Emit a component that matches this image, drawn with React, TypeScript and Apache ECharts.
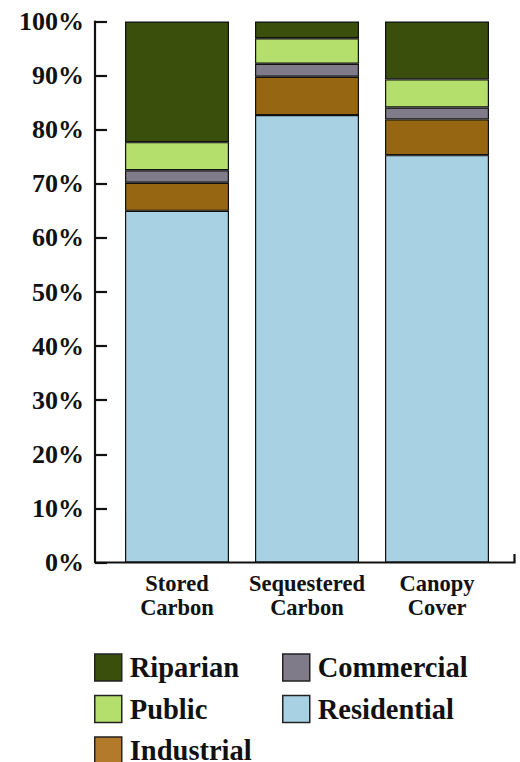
import React, { useEffect, useRef } from "react";
import * as echarts from "echarts";

const categories = ["Stored\nCarbon", "Sequestered\nCarbon", "Canopy\nCover"];
const residential = [65.0, 82.7, 75.3];
const industrial = [5.2, 7.1, 6.6];
const commercial = [2.3, 2.4, 2.2];
const publicLand = [5.2, 4.7, 5.2];
const riparian = [22.3, 3.1, 10.7];
const yTicks = [0, 10, 20, 30, 40, 50, 60, 70, 80, 90, 100];

const FONT = "'Liberation Serif', 'DejaVu Serif', serif";

const COLORS: Record<string, string> = {
  Residential: "#a8d2e4",
  Industrial: "#976613",
  Commercial: "#7f7b89",
  Public: "#b4df6c",
  Riparian: "#3a4f0c",
};

export default function App() {
  const ref = useRef<HTMLDivElement>(null);
  useEffect(() => {
    if (!ref.current) return;
    const chart = echarts.init(ref.current, null, { renderer: "svg" });
    const mk = (name: string, data: number[]) => ({
      name,
      type: "bar",
      stack: "total",
      data,
      barWidth: 104,
      itemStyle: { color: COLORS[name], borderColor: "#111", borderWidth: 1.2 },
    });
    const legendCommon = {
      orient: "vertical",
      padding: 0,
      itemWidth: 27,
      itemHeight: 27,
      itemGap: 12.5,
      icon: "rect",
      selectedMode: false,
      textStyle: {
        fontFamily: FONT,
        fontWeight: "bold",
        fontSize: 28.5,
        color: "#111",
        lineHeight: 27,
        padding: [0, 0, 0, 3],
      },
      itemStyle: { borderColor: "#222", borderWidth: 1.5 },
    };
    chart.setOption({
      animation: false,
      grid: { left: 112, width: 390, top: 21.5, height: 541 },
      xAxis: {
        type: "category",
        data: categories,
        axisLine: { show: false },
        axisTick: { show: false },
        axisLabel: {
          interval: 0,
          margin: 9,
          fontFamily: FONT,
          fontWeight: "bold",
          fontSize: 22.5,
          lineHeight: 24,
          color: "#111",
        },
      },
      yAxis: {
        type: "value",
        min: 0,
        max: 100,
        interval: 10,
        offset: 17,
        splitLine: { show: false },
        axisLine: { show: true, lineStyle: { color: "#111", width: 2.2 } },
        axisTick: { show: true, inside: true, length: 12, lineStyle: { color: "#111", width: 2.2 } },
        axisLabel: {
          margin: 11,
          fontFamily: FONT,
          fontWeight: "bold",
          fontSize: 26,
          color: "#111",
          formatter: (v: number) => (yTicks.includes(v) ? v + "%" : ""),
        },
      },
      legend: [
        {
          ...legendCommon,
          left: 94,
          top: 653,
          data: [
            { name: "Riparian" },
            { name: "Public" },
            { name: "Industrial", itemStyle: { color: "#b27a2a" } },
          ],
        },
        {
          ...legendCommon,
          left: 282,
          top: 653,
          data: [{ name: "Commercial" }, { name: "Residential" }],
        },
      ],
      graphic: [
        {
          type: "polyline",
          shape: { points: [[95, 562.5], [514.5, 562.5], [514.5, 554]] },
          style: { stroke: "#111", lineWidth: 2.2, fill: null },
        },
      ],
      series: [
        mk("Residential", residential),
        mk("Industrial", industrial),
        mk("Commercial", commercial),
        mk("Public", publicLand),
        mk("Riparian", riparian),
      ],
    });
    return () => chart.dispose();
  }, []);
  return <div ref={ref} style={{ width: 520, height: 800, position: "absolute", left: 0, top: 0 }} />;
}
